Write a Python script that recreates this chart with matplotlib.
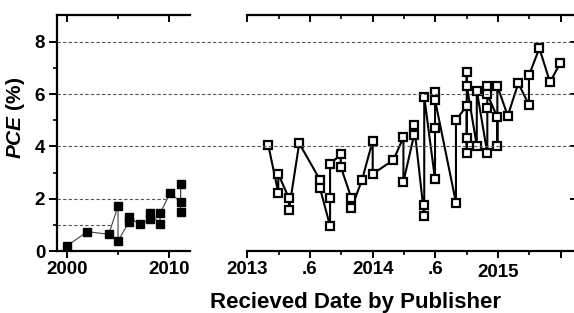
import matplotlib
matplotlib.use("Agg")
import matplotlib.pyplot as plt
from matplotlib.transforms import blended_transform_factory
from matplotlib.lines import Line2D

plt.rcParams['font.family'] = ['Liberation Sans', 'DejaVu Sans']
plt.rcParams['font.weight'] = 'bold'
plt.rcParams['mathtext.fontset'] = 'custom'
plt.rcParams['mathtext.rm'] = 'Liberation Sans:bold'
plt.rcParams['mathtext.bf'] = 'Liberation Sans:bold'
plt.rcParams['mathtext.it'] = 'Liberation Sans:italic:bold'
plt.rcParams['mathtext.bfit'] = 'Liberation Sans:italic:bold'

# Early years (filled squares)
early_x = [2000.0, 2002.0, 2004.1, 2005.0, 2005.0, 2006.1, 2006.1, 2007.1,
           2008.1, 2008.1, 2009.1, 2009.1, 2010.1, 2011.1, 2011.1, 2011.1]
early_y = [0.19, 0.74, 0.64, 1.72, 0.39, 1.12, 1.29, 1.02,
           1.22, 1.47, 1.02, 1.44, 2.23, 1.86, 2.55, 1.50]

# Recent dates (open squares), in connection order
recent_x = [2013.167, 2013.247, 2013.247, 2013.332, 2013.332, 2013.414, 2013.580, 2013.580,
            2013.660, 2013.660, 2013.660, 2013.745, 2013.745, 2013.830, 2013.830, 2013.915,
            2014.000, 2014.000, 2014.165, 2014.245, 2014.245, 2014.330, 2014.330,
            2014.411, 2014.411, 2014.411, 2014.497, 2014.497, 2014.497, 2014.497,
            2014.664, 2014.664, 2014.750, 2014.750, 2014.750, 2014.750, 2014.750,
            2014.830, 2014.830, 2014.914, 2014.914, 2014.914, 2014.914,
            2014.994, 2014.994, 2014.994, 2015.077, 2015.161, 2015.246, 2015.246,
            2015.329, 2015.414, 2015.494]
recent_y = [4.06, 2.23, 2.95, 2.02, 1.57, 4.12, 2.72, 2.40,
            0.96, 2.02, 3.32, 3.70, 3.23, 2.02, 1.63, 2.72,
            4.22, 2.95, 3.48, 4.35, 2.65, 4.44, 4.82,
            1.34, 1.76, 5.91, 2.74, 4.72, 6.10, 5.78,
            1.85, 5.01, 5.55, 3.74, 4.34, 6.84, 6.33,
            4.03, 6.14, 3.74, 5.46, 6.33, 6.00,
            5.12, 4.03, 6.32, 5.17, 6.42, 5.59, 6.72,
            7.76, 6.46, 7.18]

left_ticks = [2000, 2010]
left_ticklabels = ['2000', '2010']
right_ticks = [2013, 2013.5, 2014, 2014.5, 2015, 2015.5]
right_ticklabels = ['2013', '.6', '2014', '.6', '2015', '']
y_ticks = [0, 2, 4, 6, 8]
grid_levels = [4, 6, 8]

W, H = 574, 313
fig = plt.figure(figsize=(W / 100, H / 100), dpi=100)

bot = 62 / H
hgt = 236 / H
ax1 = fig.add_axes([57 / W, bot, 133 / W, hgt])
ax2 = fig.add_axes([247.3 / W, bot, (577 - 247.3) / W, hgt])

ylim = (0, 9.03)
for ax in (ax1, ax2):
    ax.set_ylim(*ylim)
    ax.patch.set_facecolor('none')
    for s in ax.spines.values():
        s.set_linewidth(1.6)
    ax.tick_params(axis='both', which='major', width=1.4, labelsize=13.5)
    ax.tick_params(axis='both', which='minor', width=1.2)

ax1.set_xlim(1999.05, 2012.02)
ax2.set_xlim(2013.0, 2013.0 + (577 - 247.3) / 125.4)

# Left panel
ax1.spines['right'].set_visible(False)
ax1.plot(early_x, early_y, '-', color='#444444', lw=0.8, zorder=2)
ax1.plot(early_x, early_y, 's', color='black', ms=5.6, zorder=3, linestyle='none')
ax1.set_xticks(left_ticks)
ax1.set_xticklabels(left_ticklabels)
ax1.set_xticks([2005], minor=True)
ax1.set_yticks(y_ticks)
ax1.set_yticks([1, 3, 5, 7], minor=True)
ax1.tick_params(axis='x', which='both', top=True, bottom=True, direction='out')
ax1.tick_params(axis='x', which='major', length=5, pad=2)
ax1.tick_params(axis='x', which='minor', length=3)
ax1.tick_params(axis='y', which='major', length=5.5, pad=3)
ax1.tick_params(axis='y', which='minor', length=3)
for t in ax1.xaxis.get_major_ticks() + ax1.xaxis.get_minor_ticks():
    t.tick2line.set_marker(3)  # TICKDOWN: top ticks point inward
ax1.set_ylabel('$\\mathbfit{PCE}$ (%)', fontsize=15, fontweight='bold')
ax1.yaxis.set_label_coords((27 - 57) / 133, (251 - 117.5) / 236)

# Reference lines in left panel
ax1.plot([1999.05, 2009.8], [2, 2], linestyle=(0, (3, 2)), color='#555555', lw=0.8, zorder=1)
ax1.plot([1999.05, 2004.3], [1, 1], linestyle=(0, (3, 2)), color='#555555', lw=0.8, zorder=1)

# Right panel
ax2.spines['left'].set_visible(False)
ax2.plot(recent_x, recent_y, '-', color='black', lw=1.5, zorder=2)
ax2.plot(recent_x, recent_y, 's', mfc='white', mec='black', mew=1.6, ms=5.4,
         zorder=3, linestyle='none')
ax2.set_xticks(right_ticks)
ax2.set_xticklabels(right_ticklabels)
ax2.set_xticks([2013.25, 2013.75, 2014.25, 2014.75, 2015.25], minor=True)
ax2.tick_params(axis='x', which='both', top=True, bottom=True, direction='out')
ax2.tick_params(axis='x', which='major', length=5, pad=2)
ax2.tick_params(axis='x', which='minor', length=3)
for t in ax2.xaxis.get_major_ticks() + ax2.xaxis.get_minor_ticks():
    t.tick2line.set_marker(3)
ax2.set_yticks(y_ticks)
ax2.tick_params(axis='y', which='both', left=False, labelleft=False,
                right=True, direction='in', length=5)
for lbl in ax2.get_xticklabels():
    if lbl.get_text() == '2015':
        lbl.set_y(-0.012)

for ax in (ax1, ax2):
    for lbl in ax.get_xticklabels() + ax.get_yticklabels():
        lbl.set_fontweight('bold')

# Gridlines spanning both panels
tr = blended_transform_factory(fig.transFigure, ax1.transData)
for lv in grid_levels:
    fig.add_artist(Line2D([57 / W, 1.0], [lv, lv], transform=tr,
                          linestyle=(0, (3, 2)), color='#555555', lw=0.8, zorder=0.5))

fig.text(356 / W, 5 / H, 'Recieved Date by Publisher',
         ha='center', va='baseline', fontsize=16, fontweight='bold')

fig.savefig('out.png', dpi=100)
